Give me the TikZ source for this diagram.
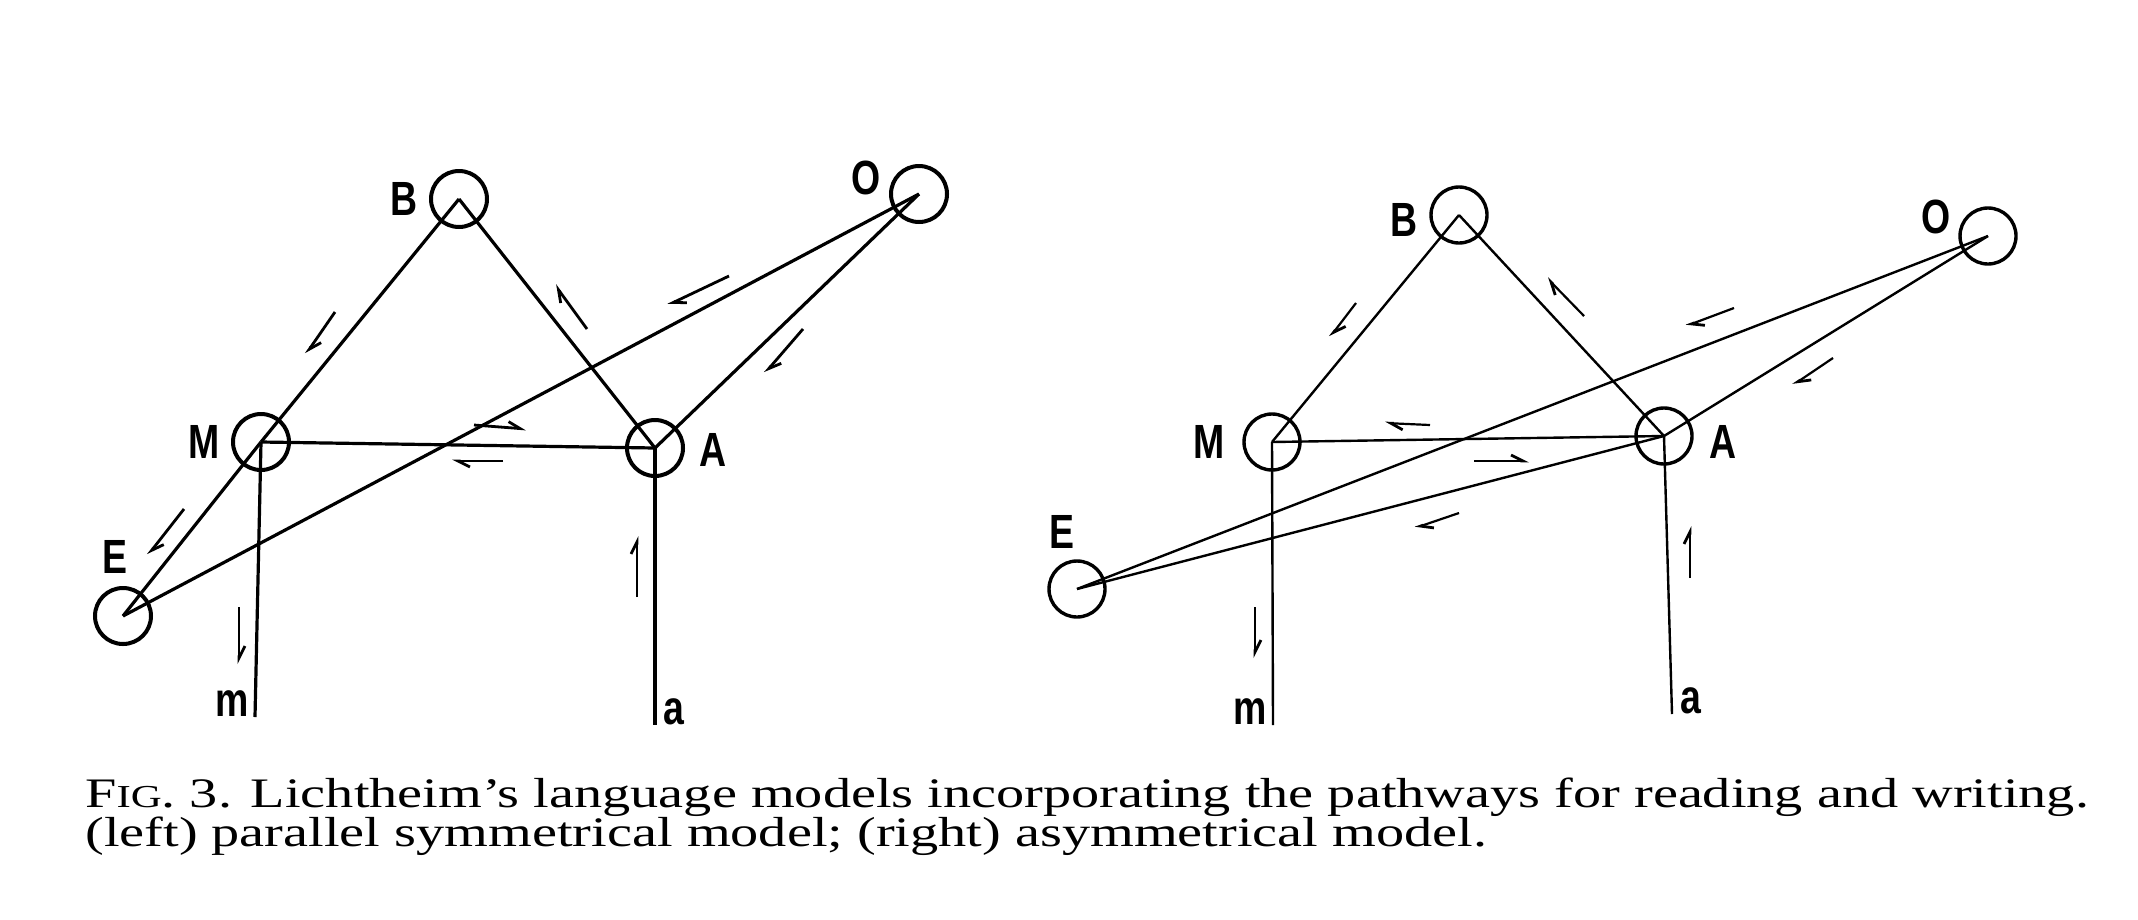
\documentclass[tikz,border=0pt]{standalone}
\usepackage{fontspec}
\setmainfont{Liberation Serif}
\setsansfont{Liberation Sans}
\usetikzlibrary{arrows.meta,positioning}

\begin{document}
\begin{tikzpicture}[x=1pt,y=-1pt,
    centre/.style={draw, circle, line width=4pt, minimum size=56pt, inner sep=0pt},
    link/.style={line width=3.2pt},
    lbl/.style={font=\sffamily\bfseries\fontsize{48}{48}\selectfont, inner sep=0pt, xscale=0.78},
    flow/.style={line width=2.8pt, -{Straight Barb[left,length=12pt,width=12pt,line width=2.8pt]}},
    caption/.style={anchor=base west, inner sep=0pt, font=\fontsize{42}{42}\selectfont, xscale=1.34}
  ]

\useasboundingbox (0,0) rectangle (2138,919);

% left: parallel symmetrical model
\node[centre] (B) at (459,199) {};
\node[centre] (O) at (919,194) {};
\node[centre] (M) at (261,442) {};
\node[centre] (A) at (655,448) {};
\node[centre] (E) at (123,616) {};
\coordinate (m) at (255,717);
\coordinate (a) at (655,725);

\draw[link] (B.center) -- (M.center);
\draw[link] (B.center) -- (A.center);
\draw[link] (O.center) -- (A.center);
\draw[link] (O.center) -- (E.center);
\draw[link] (M.center) -- (A.center);
\draw[link] (M.center) -- (E.center);
\draw[link] (M.center) -- (m);
\draw[link] (A.center) -- (a);

\node[lbl] at (404,199) {B};
\node[lbl] at (866,178) {O};
\node[lbl] at (204,442) {M};
\node[lbl] at (713,450) {A};
\node[lbl] at (115,557) {E};
\node[lbl, left=6pt of m, anchor=south east] {m};
\node[lbl, right=8pt of a, anchor=south west] {a};

% arrows
\draw[flow] (335,312) -- (306,354);
\draw[flow] (587,329) -- (555,285);
\draw[flow] (729,276) -- (668,305);
\draw[flow] (803,329) -- (765,373);
\draw[flow] (474,425) -- (526,429);
\draw[flow] (503,461) -- (452,461);
\draw[flow] (184,509) -- (148,555);
\draw[flow] (239,607) -- (239,664);
\draw[flow] (637,597) -- (637,536);

% right: asymmetrical model
\begin{scope}[centre/.append style={line width=3.4pt}, link/.append style={line width=2.4pt}, flow/.append style={line width=2.2pt}]
\node[centre] (B2) at (1459,215) {};
\node[centre] (O2) at (1988,236) {};
\node[centre] (M2) at (1272,442) {};
\node[centre] (A2) at (1664,436) {};
\node[centre] (E2) at (1077,589) {};
\coordinate (m2) at (1273,725);
\coordinate (a2) at (1672,714);

\draw[link] (B2.center) -- (M2.center);
\draw[link] (B2.center) -- (A2.center);
\draw[link] (O2.center) -- (A2.center);
\draw[link] (O2.center) -- (E2.center);
\draw[link] (M2.center) -- (A2.center);
\draw[link] (A2.center) -- (E2.center);
\draw[link] (M2.center) -- (m2);
\draw[link] (A2.center) -- (a2);

\node[lbl] at (1404,220) {B};
\node[lbl] at (1936,217) {O};
\node[lbl] at (1209,442) {M};
\node[lbl] at (1723,442) {A};
\node[lbl] at (1062,532) {E};
\node[lbl, left=6pt of m2, anchor=south east] {m};
\node[lbl, right=8pt of a2, anchor=south west] {a};

\draw[flow] (1356,303) -- (1330,337);
\draw[flow] (1584,316) -- (1547,278);
\draw[flow] (1734,308) -- (1686,326);
\draw[flow] (1833,358) -- (1793,385);
\draw[flow] (1430,425) -- (1385,423);
\draw[flow] (1474,461) -- (1529,461);
\draw[flow] (1459,513) -- (1415,528);
\draw[flow] (1255,607) -- (1255,658);
\draw[flow] (1690,578) -- (1690,526);
\end{scope}

% caption
\node[caption] (cap1) at (85,807)
  {F{\fontsize{32}{32}\selectfont IG}. 3. Lichtheim's language models incorporating the pathways for reading and writing.};
\node[caption] (cap2) at (85,846)
  {(left) parallel symmetrical model; (right) asymmetrical model.};

\end{tikzpicture}
\end{document}
